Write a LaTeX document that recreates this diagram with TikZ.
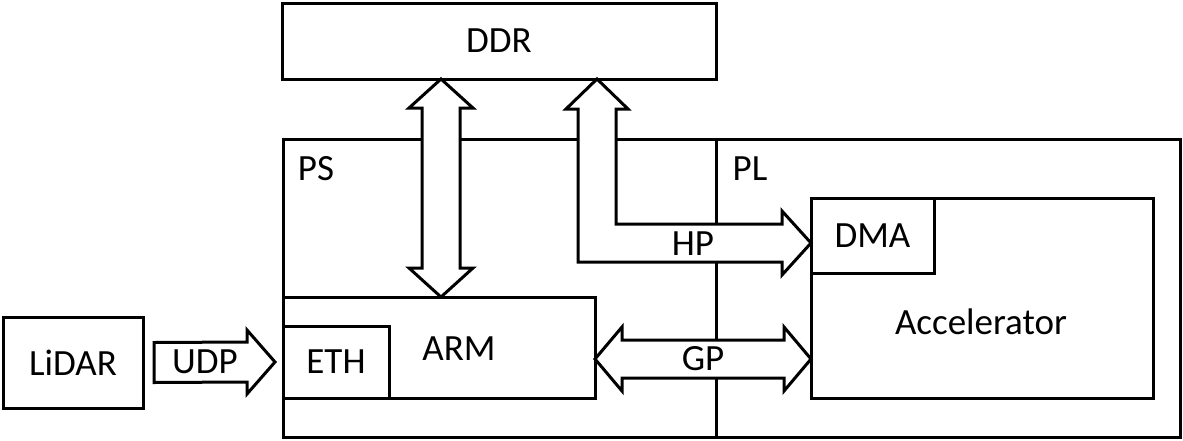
\documentclass[tikz,border=0pt]{standalone}
\usepackage{fontspec}
\setmainfont{Carlito}
\usetikzlibrary{positioning, calc}

\begin{document}
\begin{tikzpicture}[
			x=1pt, y=-1pt,
			font=\fontsize{37}{42}\selectfont,
			box/.style={
				draw,
				rectangle,
				line width=3pt,
				inner sep=0pt,
				outer sep=0pt
			},
			fatarrow/.style={
				draw,
				fill=white,
				line width=3pt,
				line join=miter
			}
			]
			\useasboundingbox (0,0) rectangle (1183,440);
			
			% Blocks
			\node[box, minimum width=434pt, minimum height=76pt] (ddr) at (499,41) {DDR};
			\node[box, anchor=north west, minimum width=433pt, minimum height=298pt] (ps) at (283,139) {};
			\node[box, anchor=north west, minimum width=464pt, minimum height=298pt] (pl) at (ps.north east) {};
			\node[box, anchor=north west, minimum width=312pt, minimum height=101pt] (arm) at (283,297) {};
			\node[box, anchor=south west, minimum width=106pt, minimum height=72pt] (eth) at (arm.south west) {ETH};
			\node[box, minimum width=140pt, minimum height=91pt] (lidar) at (73,362.5) {LiDAR};
			\node[box, anchor=north west, minimum width=342pt, minimum height=200pt] (acc) at (811,198) {};
			\node[box, anchor=north west, minimum width=123pt, minimum height=75pt] (dma) at (acc.north west) {DMA};
			
			% Texts
			\node (pstext) at (316,169) {PS};
			\node (pltext) at (750,169) {PL};
			\node (armtext) at (459,349) {ARM};
			\node (acctext) at (981,322) {Accelerator};
			
			% Tips
			\coordinate (a1) at ($(ddr.south west)+(159,0)$);
			\coordinate (a2) at ($(arm.north west)+(158,0)$);
			\coordinate (h1) at ($(ddr.south west)+(315,0)$);
			\coordinate (h2) at ($(dma.south west)+(0,-30)$);
			\coordinate (hc) at (h1 |- h2);
			\coordinate (g1) at ($(arm.south east)+(0,-39)$);
			\coordinate (g2) at (acc.west |- g1);
			\coordinate (u1) at ($(lidar.east)+(11,0)$);
			\coordinate (u2) at ($(eth.west)+(-8,0)$);
			
			% Buses
			\draw[fatarrow] (a1) -- ($(a1)+(32,29)$) -- ($(a1)+(19,29)$)
			-- ($(a2)+(19,-29)$) -- ($(a2)+(32,-29)$) -- (a2)
			-- ($(a2)+(-32,-29)$) -- ($(a2)+(-19,-29)$)
			-- ($(a1)+(-19,29)$) -- ($(a1)+(-32,29)$) -- cycle;
			\draw[fatarrow] (h1) -- ($(h1)+(31,30)$) -- ($(h1)+(19,30)$)
			-- ($(hc)+(19,-19)$) -- ($(h2)+(-29,-19)$) -- ($(h2)+(-29,-32)$) -- (h2)
			-- ($(h2)+(-29,32)$) -- ($(h2)+(-29,19)$) -- ($(hc)+(-19,19)$)
			-- ($(h1)+(-19,30)$) -- ($(h1)+(-31,30)$) -- cycle;
			\draw[fatarrow] (g1) -- ($(g1)+(27,-32)$) -- ($(g1)+(27,-19)$)
			-- ($(g2)+(-27,-19)$) -- ($(g2)+(-27,-32)$) -- (g2)
			-- ($(g2)+(-27,32)$) -- ($(g2)+(-27,19)$)
			-- ($(g1)+(27,19)$) -- ($(g1)+(27,32)$) -- cycle;
			\draw[fatarrow] ($(u1)+(0,-20)$) -- ($(u2)+(-28,-20)$) -- ($(u2)+(-28,-32)$) -- (u2)
			-- ($(u2)+(-28,32)$) -- ($(u2)+(-28,20)$) -- ($(u1)+(0,20)$) -- cycle;
			
			% Bus labels
			\node (hp) at (693,244) {HP};
			\node (gp) at (703,359) {GP};
			\node (udp) at (205,362) {UDP};
		\end{tikzpicture}
\end{document}
